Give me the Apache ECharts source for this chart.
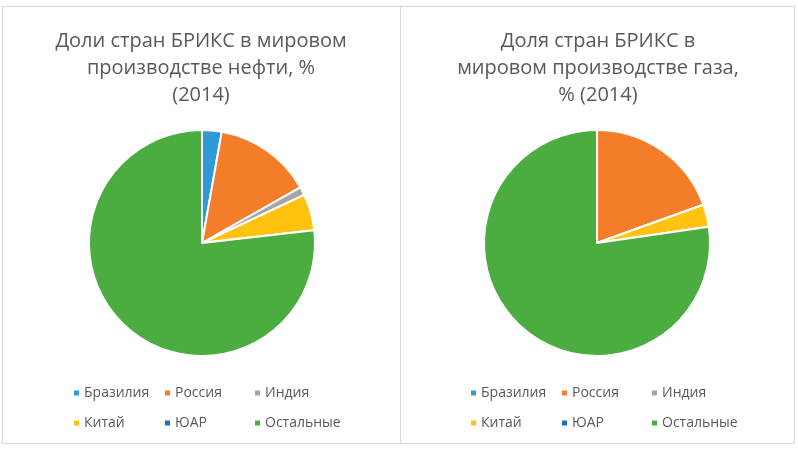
<!DOCTYPE html>
<html><head><meta charset="utf-8">
<script src="https://cdn.jsdelivr.net/npm/echarts@6/dist/echarts.min.js"></script>
<style>html,body{margin:0;padding:0;background:#fff}#c{width:798px;height:450px}</style>
</head><body><div id="c"></div>
<script>
const categories = ['Бразилия','Россия','Индия','Китай','ЮАР','Остальные'];
const oilShare = [2.8, 14.0, 1.2, 5.2, 0, 76.8];
const gasShare = [0, 19.5, 0, 3.2, 0, 77.3];
const titles = ['Доли стран БРИКС в мировом\nпроизводстве нефти, %\n(2014)', 'Доля стран БРИКС в\nмировом производстве газа,\n% (2014)'];
const colors = ['#2E9BD8','#F47D2A','#A5A5A5','#FFC20E','#1F6EBF','#4BAC3F'];

const font = '"Open Sans", "Noto Sans", sans-serif';
const chart = echarts.init(document.getElementById('c'), null, {renderer:'canvas'});

function mk(vals){ return categories.map((n,i)=>({name:n, value:vals[i]})); }
const centersX = [201, 598];
const legendCols = [[0,3],[1,4],[2,5]];
const colX = [75, 166, 256];
const legends = [];
[0,1].forEach(p=>{
  legendCols.forEach((col,ci)=>{
    legends.push({
      orient:'vertical', left: colX[ci] + p*397 - 3, top: 385, padding:0,
      data: col.map(i=>categories[i]), selectedMode:false,
      icon:'rect', itemWidth:7, itemHeight:7, itemGap:14,
      textStyle:{fontFamily:font, fontSize:14, color:'#595959', lineHeight:16, padding:[0,0,0,-1]}
    });
  });
});

chart.setOption({
  color: colors,
  animation:false,
  graphic:[
    {type:'rect', shape:{x:2.5,y:6.5,width:398,height:437}, style:{fill:'none', stroke:'#D9D9D9', lineWidth:1}},
    {type:'rect', shape:{x:400.5,y:6.5,width:394,height:437}, style:{fill:'none', stroke:'#D9D9D9', lineWidth:1}}
  ],
  title: titles.map((t,i)=>({
    text:t, left: centersX[i], top: 28, padding:0, textAlign:'center',
    textStyle:{fontFamily:font, fontSize:20, fontWeight:'normal', color:'#595959', lineHeight:27}
  })),
  legend: legends,
  series: [oilShare, gasShare].map((v,i)=>({
    type:'pie', center:[[202,597][i], 243], radius:113, startAngle:90, clockwise:true,
    label:{show:false}, labelLine:{show:false}, avoidLabelOverlap:false, minAngle:0,
    itemStyle:{borderColor:'#fff', borderWidth:2},
    emphasis:{disabled:true},
    data: mk(v)
  }))
});
</script></body></html>
